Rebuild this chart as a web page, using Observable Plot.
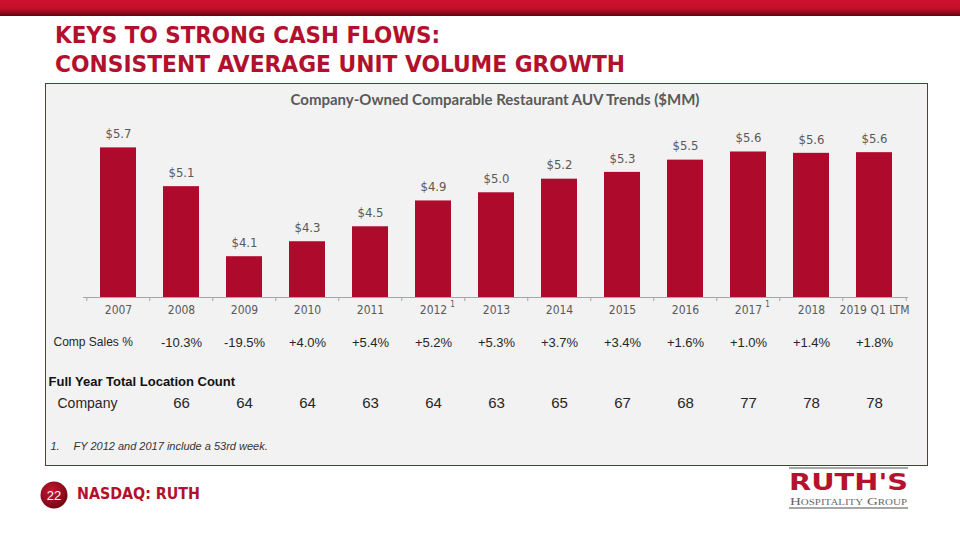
<!DOCTYPE html>
<html>
<head>
<meta charset="utf-8">
<script src="https://cdn.jsdelivr.net/npm/d3@7"></script>
<script src="https://cdn.jsdelivr.net/npm/@observablehq/plot@0.6"></script>
<style>
  html, body { margin: 0; padding: 0; background: #ffffff; }
  #page { position: relative; width: 960px; height: 540px; overflow: hidden; background: #fff; }
  #band { position: absolute; left: 0; top: 0; width: 960px; height: 16px;
          background: linear-gradient(#cd1230 0%, #c40f2c 50%, #8a0a1b 82%, #5e0410 100%); }
  #panel { position: absolute; left: 45px; top: 83px; width: 881px; height: 381px;
           background: #f2f2f2; border: 1px solid #8c2233; }
  #chart { position: absolute; left: 45px; top: 83px; }
  #chartTitle { position: absolute; left: 0; width: 990px; top: 90px; text-align: center;
                font: bold 15px Lato, "Open Sans", sans-serif; color: #595959; }
  #deco { position: absolute; left: 0; top: 0; }
  g[aria-label="comp"] text, g[aria-label="counts"] text { letter-spacing: 0.5px; }
</style>
</head>
<body>
<div id="page">
  <div id="band"></div>
  <div id="panel"></div>
  <div id="chartTitle">Company-Owned Comparable Restaurant AUV Trends ($MM)</div>
  <div id="chart"></div>
  <svg id="deco" width="960" height="540">
    <defs>
      <radialGradient id="dot" cx="40%" cy="35%" r="70%">
        <stop offset="0%" stop-color="#c8142f"/>
        <stop offset="100%" stop-color="#6e0714"/>
      </radialGradient>
    </defs>
    <g font-family="'Liberation Sans Narrow','DejaVu Sans Condensed','Liberation Sans',sans-serif" font-weight="bold" fill="#b3102e">
      <text x="55" y="43" font-size="23" textLength="385" lengthAdjust="spacingAndGlyphs">KEYS TO STRONG CASH FLOWS:</text>
      <text x="55" y="72" font-size="23" textLength="570" lengthAdjust="spacingAndGlyphs">CONSISTENT  AVERAGE UNIT VOLUME GROWTH</text>
      <text x="77" y="499" font-size="15" textLength="123" lengthAdjust="spacingAndGlyphs">NASDAQ: RUTH</text>
    </g>
    <circle cx="54" cy="495" r="13.5" fill="url(#dot)"/>
    <text x="54" y="500" text-anchor="middle" font-family="'Liberation Sans',Arial,sans-serif" font-size="13" fill="#fff">22</text>
    <line x1="789" x2="908" y1="468" y2="468" stroke="#8a8a8a" stroke-width="1.5"/>
    <text x="789" y="490" font-family="'DejaVu Sans','Liberation Sans',sans-serif" font-weight="bold" font-size="23" fill="#b5122e" textLength="119" lengthAdjust="spacingAndGlyphs">RUTH'S</text>
    <text x="790" y="505" font-family="'Liberation Serif','DejaVu Serif',serif" font-size="11" fill="#666" style="font-variant: small-caps" textLength="117" lengthAdjust="spacingAndGlyphs">Hospitality Group</text>
    <line x1="789" x2="908" y1="508" y2="508" stroke="#8a8a8a" stroke-width="1.5"/>
  </svg>
</div>
<script>
// ---- data ----
const years = ["2007", "2008", "2009", "2010", "2011", "2012", "2013", "2014", "2015", "2016", "2017", "2018", "2019 Q1 LTM"];
const auv = [5.70, 5.13, 4.10, 4.32, 4.54, 4.92, 5.04, 5.24, 5.34, 5.52, 5.64, 5.62, 5.63];
const compYears = ["2008", "2009", "2010", "2011", "2012", "2013", "2014", "2015", "2016", "2017", "2018", "2019 Q1 LTM"];
const compSales = [-10.3, -19.5, 4.0, 5.4, 5.2, 5.3, 3.7, 3.4, 1.6, 1.0, 1.4, 1.8];
const locationCounts = [66, 64, 64, 63, 64, 63, 65, 67, 68, 77, 78, 78];
const footnoteYears = ["2012", "2017"];
const yFloor = 3.5;

// ---- tables built from the arrays ----
const bars = years.map((y, i) => ({year: y, auv: auv[i]}));
const comps = compYears.map((y, i) => ({year: y, comp: compSales[i], count: locationCounts[i]}));

const W = 883, H = 382, ML = 38, MR = 20, MT = 44, MB = 168;
const step = (W - ML - MR) / years.length;
const red = "#ae0a2c", gray = "#595959", ink = "#262626";
const cond = "'DejaVu Sans Condensed', 'DejaVu Sans', sans-serif";
const sans = "'Liberation Sans', Arial, sans-serif";

const chart = Plot.plot({
  width: W, height: H,
  marginLeft: ML, marginRight: MR, marginTop: MT, marginBottom: MB,
  style: {background: "transparent", overflow: "visible"},
  x: {domain: years, paddingInner: 0.43, paddingOuter: 0.215, axis: null},
  y: {domain: [yFloor, 6.0], axis: null},
  marks: [
    Plot.barY(bars, {x: "year", y1: yFloor, y2: "auv", fill: red}),
    Plot.text(bars, {x: "year", y: "auv", text: d => "$" + d.auv.toFixed(1), dy: -14,
      fontSize: 13, fontFamily: cond, fill: gray}),
    Plot.ruleY([yFloor], {stroke: "#a6a6a6", strokeWidth: 1}),
    Plot.ruleX(years, {x: d => d, dx: -step / 2, y1: yFloor, y2: yFloor, insetBottom: -4, stroke: "#a6a6a6"}),
    Plot.ruleX(years.slice(-1), {x: d => d, dx: step / 2, y1: yFloor, y2: yFloor, insetBottom: -4, stroke: "#a6a6a6"}),
    Plot.text(years, {x: d => d, text: d => d, frameAnchor: "bottom", dy: 13, lineAnchor: "middle",
      fontSize: 12, fontFamily: cond, fill: gray}),
    Plot.text(footnoteYears, {x: d => d, text: () => "1", frameAnchor: "bottom", dx: 19, dy: 7, lineAnchor: "middle",
      fontSize: 8, fontFamily: cond, fill: gray}),
    Plot.text(["Comp Sales %"], {frameAnchor: "bottom-left", text: d => d, textAnchor: "start", dx: -30, dy: 45,
      lineAnchor: "middle", fontSize: 12, fontFamily: sans, fill: ink}),
    Plot.text(comps, {x: "year", text: d => (d.comp > 0 ? "+" : "") + d.comp.toFixed(1) + "%", frameAnchor: "bottom",
      dy: 45, lineAnchor: "middle", fontSize: 13, fontFamily: sans, fill: ink, ariaLabel: "comp"}),
    Plot.text(["Full Year Total Location Count"], {frameAnchor: "bottom-left", text: d => d, textAnchor: "start", dx: -35, dy: 84,
      lineAnchor: "middle", fontSize: 13, fontWeight: "bold", fontFamily: sans, fill: "#111"}),
    Plot.text(["Company"], {frameAnchor: "bottom-left", text: d => d, textAnchor: "start", dx: -26, dy: 106,
      lineAnchor: "middle", fontSize: 14, fontFamily: sans, fill: ink}),
    Plot.text(comps, {x: "year", text: d => String(d.count), frameAnchor: "bottom",
      dy: 106, lineAnchor: "middle", fontSize: 15, fontFamily: sans, fill: ink, ariaLabel: "counts"}),
    Plot.text(["1."], {frameAnchor: "bottom-left", text: d => d, textAnchor: "start", dx: -33, dy: 149,
      lineAnchor: "middle", fontSize: 11, fontStyle: "italic", fontFamily: sans, fill: "#333"}),
    Plot.text(["FY 2012 and 2017 include a 53rd week."], {frameAnchor: "bottom-left", text: d => d, textAnchor: "start", dx: -10, dy: 149,
      lineAnchor: "middle", fontSize: 11, fontStyle: "italic", fontFamily: sans, fill: "#333"})
  ]
});
document.getElementById("chart").appendChild(chart);
</script>
</body>
</html>
